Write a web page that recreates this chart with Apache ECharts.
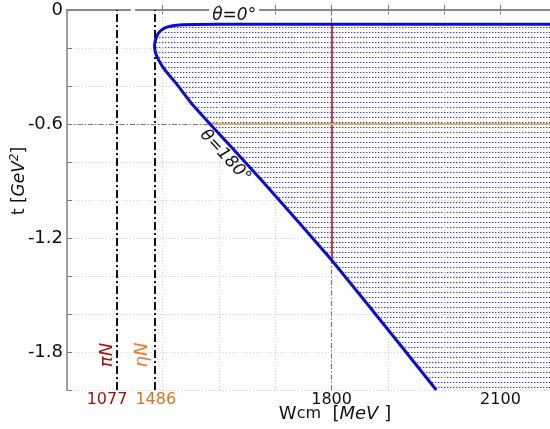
<!DOCTYPE html>
<html><head><meta charset="utf-8">
<script src="https://cdn.jsdelivr.net/npm/echarts@6/dist/echarts.min.js"></script>
<style>html,body{margin:0;padding:0;background:#fff}#c{width:550px;height:429px}</style>
</head><body><div id="c"></div>
<script>
// ---- data ----
// boundary of the physical region: theta=0 branch (top) -> nose at threshold -> theta=180 branch
const boundaryW = [2188, 1800, 1600, 1560, 1535, 1520, 1510, 1502, 1496, 1491, 1488, 1486, 1485.5, 1486.5, 1489, 1493, 1498, 1505, 1515, 1525, 1550, 1584, 1628, 1680, 1744, 1800, 1856, 1920, 1986];
const boundaryT = [-0.075, -0.075, -0.075, -0.076, -0.078, -0.082, -0.088, -0.097, -0.110, -0.128, -0.150, -0.172, -0.193, -0.215, -0.240, -0.265, -0.290, -0.320, -0.355, -0.390, -0.488, -0.600, -0.741, -0.910, -1.125, -1.316, -1.520, -1.755, -2.000];
const cornerW = 2188, cornerT = -2.0;          // closes the filled region at the bottom-right
const thresholdW = [1077, 1486];
const thresholdNames = ['πN', 'ηN'];
const thresholdLabelW = [1059, 1463];
const thresholdLabelT = -1.816;
const xLabelValues = [1077, 1486, 1800, 2100];
const xTickValues = [1500, 1600, 1700, 1800, 1900, 2000, 2100];
const xGridValues = [1500, 1600, 1700, 1900, 2000, 2100];
const yLabelValues = [0, -0.6, -1.2, -1.8];
const refW = 1800, refT = -0.6;
const redSegT = [-0.075, -1.316];
const goldSegW = [1584, 2188];
const theta0Pos = [1627, -0.028];
const theta180Pos = [1611, -0.77];
const xRange = [988.2, 2188];
const xBreak = {start: 1099.5, end: 1452, gap: 10.65};
const yRange = [-2, 0];

// ---- styles ----
const FONT = 'DejaVu Sans';
const pc = document.createElement('canvas');
pc.width = 3; pc.height = 5;
const g = pc.getContext('2d');
g.fillStyle = 'rgba(40,40,255,0.95)';
g.fillRect(0, 2, 1, 1);
g.fillStyle = 'rgba(110,110,255,0.55)';
g.fillRect(1, 2, 1, 1);

const chart = echarts.init(document.getElementById('c'), null, {renderer: 'canvas'});

const gridLineStyle = {color: '#d4d4d4', width: 1, type: [1, 2]};
const markData = [];
xGridValues.forEach(w => markData.push({xAxis: w, lineStyle: gridLineStyle}));
markData.push({xAxis: refW, lineStyle: {color: '#7a7a7a', width: 1.2, type: [5, 2, 1.5, 2]}});
markData.push({yAxis: refT, lineStyle: {color: '#7a7a7a', width: 1.2, type: [5, 2, 1.5, 2]}});
markData.push([{coord: [refW, redSegT[0]], lineStyle: {color: '#e23434', width: 2, type: 'solid'}}, {coord: [refW, redSegT[1]]}]);
markData.push([{coord: [goldSegW[0], refT], lineStyle: {color: '#d9b445', width: 2, type: 'solid'}}, {coord: [goldSegW[1], refT]}]);
thresholdW.forEach(w => markData.push({xAxis: w, lineStyle: {color: '#111', width: 2, type: [8, 3, 2, 3]}}));

const labelColors = {1077: 'r', 1486: 'o'};
const thrColors = ['#a01818', '#f07a28'];

const option = {
  animation: false,
  backgroundColor: '#fff',
  grid: {left: 67, right: 0, top: 10, bottom: 39, containLabel: false},
  xAxis: [{
    type: 'value', position: 'bottom', min: xRange[0], max: xRange[1],
    breaks: [xBreak], breakArea: {show: false},
    axisLine: {show: true, lineStyle: {color: '#7f7f7f', width: 1.5}},
    axisTick: {show: true, inside: true, length: 5, customValues: xTickValues, lineStyle: {color: '#7f7f7f'}},
    splitLine: {show: false},
    axisLabel: {
      show: true, customValues: xLabelValues, margin: 2,
      fontFamily: FONT, fontSize: 16, color: '#111',
      formatter: v => labelColors[v] ? '{' + labelColors[v] + '|' + v + '}' : String(v),
      rich: {
        r: {color: '#9b1010', fontFamily: FONT, fontSize: 16, padding: [0, 20, 0, 0]},
        o: {color: '#e0701e', fontFamily: FONT, fontSize: 16, padding: [0, 0, 0, 2]}
      }
    }
  }, {
    type: 'value', position: 'top', min: xRange[0], max: xRange[1],
    breaks: [xBreak], breakArea: {show: false},
    axisLine: {show: true, lineStyle: {color: '#8a8a8a', width: 2}},
    axisTick: {show: true, inside: true, length: 5, customValues: xTickValues, lineStyle: {color: '#7f7f7f'}},
    splitLine: {show: false},
    axisLabel: {show: false}
  }],
  yAxis: {
    type: 'value', min: yRange[0], max: yRange[1], interval: 0.2,
    axisLine: {show: true, lineStyle: {color: '#7f7f7f', width: 1.5}},
    axisTick: {show: true, inside: true, length: 5, lineStyle: {color: '#7f7f7f'}},
    splitLine: {show: true, lineStyle: gridLineStyle},
    axisLabel: {
      margin: 4, fontFamily: FONT, fontSize: 18, color: '#111',
      formatter: v => {
        const hit = yLabelValues.some(y => Math.abs(y - v) < 1e-6);
        if (!hit) return '';
        return Math.abs(v) < 1e-9 ? '0' : v.toFixed(1);
      }
    }
  },
  graphic: [{
    type: 'text', x: 335, y: 414, z: 10,
    style: {
      text: '{w|W}{c|cm}  [{i|MeV} ]', align: 'center', verticalAlign: 'middle',
      font: '18px "DejaVu Sans"', fill: '#111',
      rich: {
        w: {fontFamily: FONT, fontSize: 18, fill: '#111'},
        c: {fontFamily: FONT, fontSize: 16, fill: '#111'},
        i: {fontFamily: FONT, fontSize: 18, fontStyle: 'italic', fill: '#111'}
      }
    }
  }, {
    type: 'text', x: 20, y: 181, rotation: Math.PI / 2, z: 10,
    style: {
      text: 't [{i|GeV}{s|2}]', align: 'center', verticalAlign: 'middle',
      font: '17px "DejaVu Sans"', fill: '#111',
      rich: {
        i: {fontFamily: FONT, fontSize: 17, fontStyle: 'italic', fill: '#111', lineHeight: 22},
        s: {fontFamily: FONT, fontSize: 12, fontStyle: 'italic', fill: '#111', verticalAlign: 'top', lineHeight: 22}
      }
    }
  }],
  series: [{
    type: 'custom', silent: true, z: 2,
    data: [[refW, refT]],
    renderItem: (params, api) => {
      const pts = boundaryW.map((w, i) => api.coord([w, boundaryT[i]]));
      pts.push(api.coord([cornerW, cornerT]));
      return {type: 'polygon', shape: {points: pts}, style: {fill: {image: pc, repeat: 'repeat'}, stroke: null}};
    },
    markLine: {silent: true, symbol: 'none', label: {show: false}, data: markData}
  }, {
    type: 'line', z: 5, silent: true,
    data: boundaryW.map((w, i) => [w, boundaryT[i]]),
    showSymbol: false, symbol: 'none',
    lineStyle: {color: '#0c0cd9', width: 3},
    markPoint: {
      silent: true, symbol: 'circle', symbolSize: 1, itemStyle: {color: 'rgba(0,0,0,0)'},
      data: [
        {coord: theta0Pos, label: {show: true, position: 'inside', formatter: 'θ=0°', fontFamily: FONT, fontSize: 17, fontStyle: 'italic', color: '#111', backgroundColor: '#fff', padding: [0, 3]}},
        {coord: theta180Pos, label: {show: true, position: 'inside', rotate: -47, formatter: 'θ=180°', fontFamily: FONT, fontSize: 17, fontStyle: 'italic', color: '#111'}},
        {coord: [thresholdLabelW[0], thresholdLabelT], label: {show: true, position: 'inside', rotate: 90, formatter: thresholdNames[0], fontFamily: FONT, fontSize: 18, fontStyle: 'italic', color: thrColors[0]}},
        {coord: [thresholdLabelW[1], thresholdLabelT], label: {show: true, position: 'inside', rotate: 90, formatter: thresholdNames[1], fontFamily: FONT, fontSize: 18, fontStyle: 'italic', color: thrColors[1]}}
      ]
    }
  }]
};
chart.setOption(option);
</script>
</body></html>
